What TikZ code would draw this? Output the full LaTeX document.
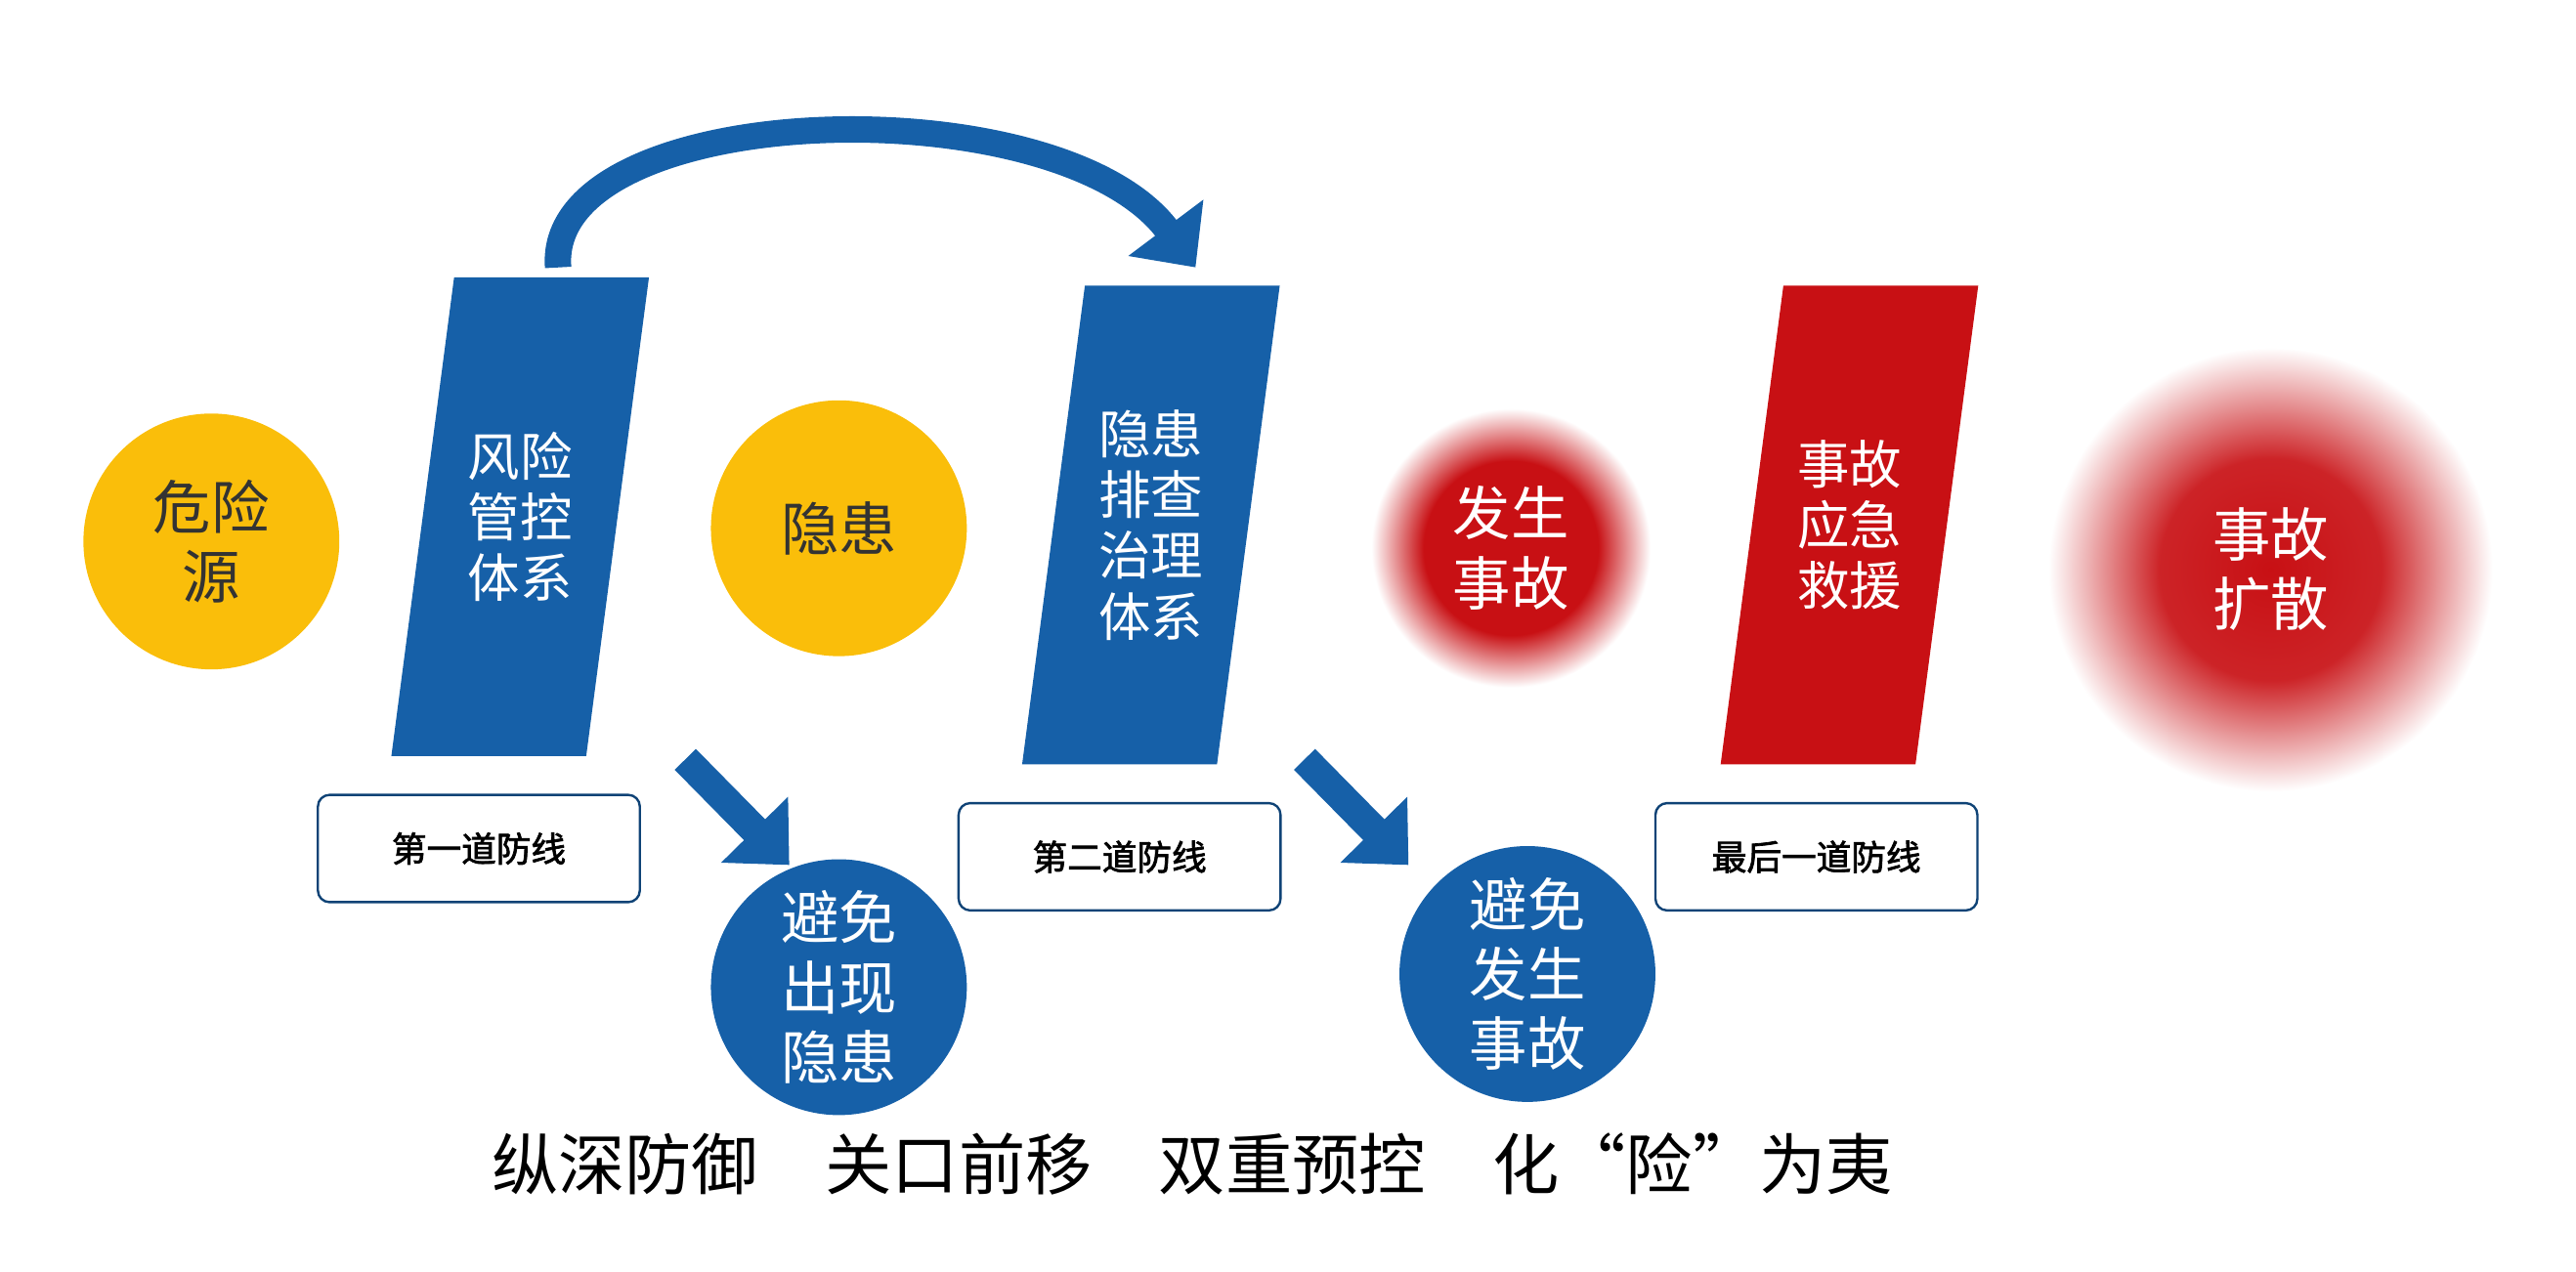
\documentclass[tikz,border=0pt]{standalone}
\usepackage{fontspec}
\newfontfamily\cjk[AutoFakeBold=2]{Noto Sans CJK SC}
\usetikzlibrary{arrows.meta}
\definecolor{myblue}{RGB}{22,96,168}
\definecolor{myred}{RGB}{200,16,20}
\definecolor{myyellow}{RGB}{250,190,10}
\pgfdeclareradialshading{glowa}{\pgfpoint{0bp}{0bp}}{color(0bp)=(myred); color(15bp)=(myred); color(24bp)=(white); color(50bp)=(white)}
\pgfdeclareradialshading{glowb}{\pgfpoint{0bp}{0bp}}{color(0bp)=(myred); color(12bp)=(myred!92!white); color(24bp)=(white); color(50bp)=(white)}
\tikzset{
  dot/.style={circle, minimum size=3.1cm, inner sep=0pt, align=center, font=\cjk\fontsize{20}{24}\selectfont},
  yellowdot/.style={dot, fill=myyellow, text=black!80},
  bluedot/.style={dot, fill=myblue, text=white},
  bartext/.style={align=center, text=white, font=\cjk\fontsize{18}{21}\selectfont},
  tag/.style={draw=myblue!70!black, line width=0.8pt, rounded corners=4pt, fill=white, minimum width=3.9cm, minimum height=1.3cm, font=\cjk\bfseries\fontsize{12}{14}\selectfont},
  fat/.style={myblue, line width=0.36cm, -{Triangle[length=0.6cm, width=1.1cm]}}
}
% slanted bar: #1 colour, #2 top-left x, #3 top y, #4 bottom y
\newcommand{\slantbar}[4]{\fill[#1] (#2,#3) -- ++(118,0) -- ++(-38,#4-#3) -- ++(-118,0) -- cycle;}
\begin{document}
\begin{tikzpicture}[x=0.02cm, y=-0.02cm]
\useasboundingbox (0,0) rectangle (1560,770);

\node[yellowdot] (src) at (128,328) {危险\\源};
\slantbar{myblue}{275}{168}{458}
\node[bartext] (risk) at (315,313) {风险\\管控\\体系};
\node[yellowdot] (hid) at (508,320) {隐患};
\slantbar{myblue}{657}{173}{463}
\node[bartext] (check) at (697,318) {隐患\\排查\\治理\\体系};
\shade[shading=glowa] (915,332) circle (88);
\node[dot, text=white] (acc) at (915,332) {发生\\事故};
\slantbar{myred}{1080}{173}{463}
\node[bartext] (rescue) at (1120,318) {事故\\应急\\救援};
\shade[shading=glowb] (1375,345) circle (140);
\node[dot, text=white] (spread) at (1375,345) {事故\\扩散};

\node[tag] (t1) at (290,514) {第一道防线};
\node[tag] (t2) at (678,519) {第二道防线};
\node[tag] (t3) at (1100,519) {最后一道防线};

\node[bluedot] (avoid1) at (508,598) {避免\\出现\\隐患};
\node[bluedot] (avoid2) at (925,590) {避免\\发生\\事故};

\coordinate (a1) at (415,460);
\coordinate (b1) at (478,524);
\coordinate (a2) at (790,460);
\coordinate (b2) at (853,524);
\draw[fat] (a1) -- (b1);
\draw[fat] (a2) -- (b2);

\coordinate (c1) at (338,162);
\coordinate (c2) at (724,162);
\draw[fat, line width=0.32cm] (c1) .. controls (330,60) and (640,50) .. (c2);

\node[font=\cjk\fontsize{23}{26}\selectfont] (motto) at (722,705) {纵深防御\quad 关口前移\quad 双重预控\quad 化“险”为夷};
\end{tikzpicture}
\end{document}
